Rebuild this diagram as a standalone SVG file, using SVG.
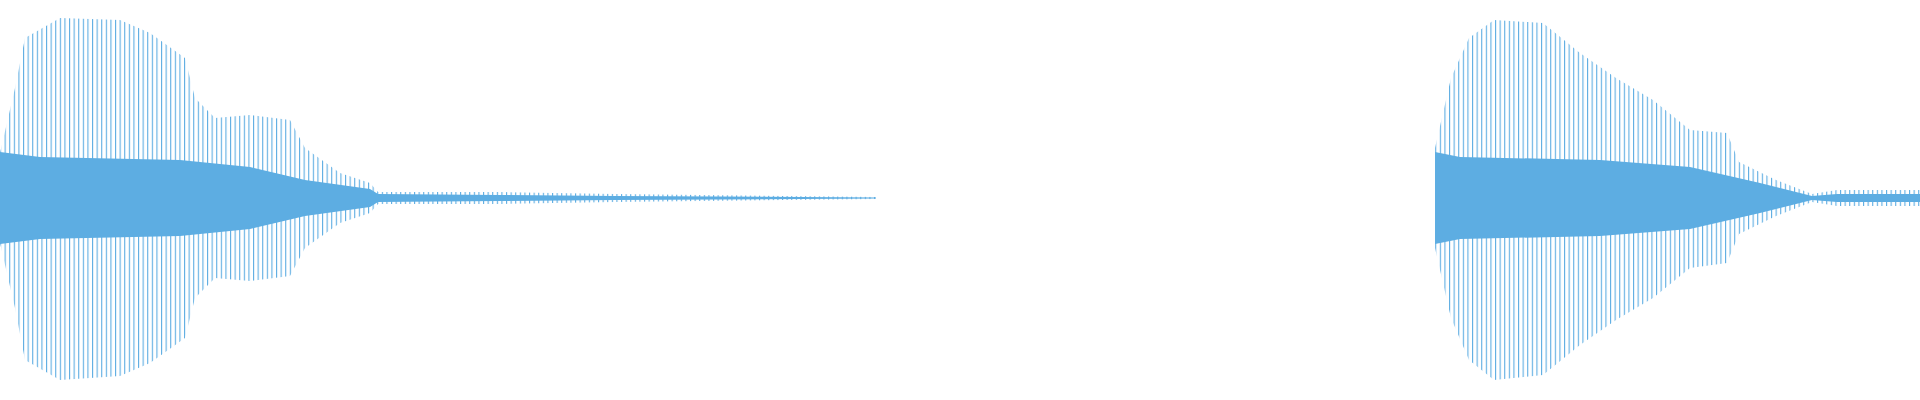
<svg xmlns="http://www.w3.org/2000/svg" width="1920" height="400" viewBox="0 0 1920 400">
<defs>
<pattern id="st" width="4.6" height="400" patternUnits="userSpaceOnUse">
<rect x="0" y="0" width="1.1" height="400" fill="#5dade2"/>
</pattern>
<style>.env{fill:url(#st)}.core{fill:#5dade2}</style>
</defs>
<rect width="1920" height="400" fill="#fff"/>
<g id="burst1">
<polygon class="env" points="0,153 15,88 25,38 60,18 120,20 150,33 185,58 195,98 215,118 250,115 290,120 305,148 340,173 370,183 378,192 500,192 615,194 876,197 876,199 615,202 500,204 378,204 370,213 340,223 305,248 290,276 250,281 215,278 195,298 185,338 150,363 120,376 60,380 25,360 15,308 0,243"/>
<polygon class="core" points="0,152 40,157 180,160 250,167 305,180 370,189 378,194 500,195 615,196 876,197.5 876,198.5 615,200 500,201 378,202 370,207 305,216 250,229 180,236 40,239 0,244"/>
</g>
<g id="burst2">
<polygon class="env" points="1435,148 1451,78 1469,38 1494,20 1543,23 1580,53 1616,78 1653,100 1690,130 1727,133 1739,162 1776,180 1812,194 1837,190 1920,190 1920,206 1837,206 1812,202 1776,216 1739,234 1727,263 1690,268 1653,298 1616,320 1580,345 1543,375 1494,380 1469,360 1451,318 1435,248"/>
<polygon class="core" points="1435,152 1460,157 1600,160 1690,167 1760,183 1812,196 1837,194 1920,194 1920,202 1837,202 1812,200 1760,213 1690,229 1600,236 1460,239 1435,244"/>
</g>
<g id="connectors"/>
</svg>
